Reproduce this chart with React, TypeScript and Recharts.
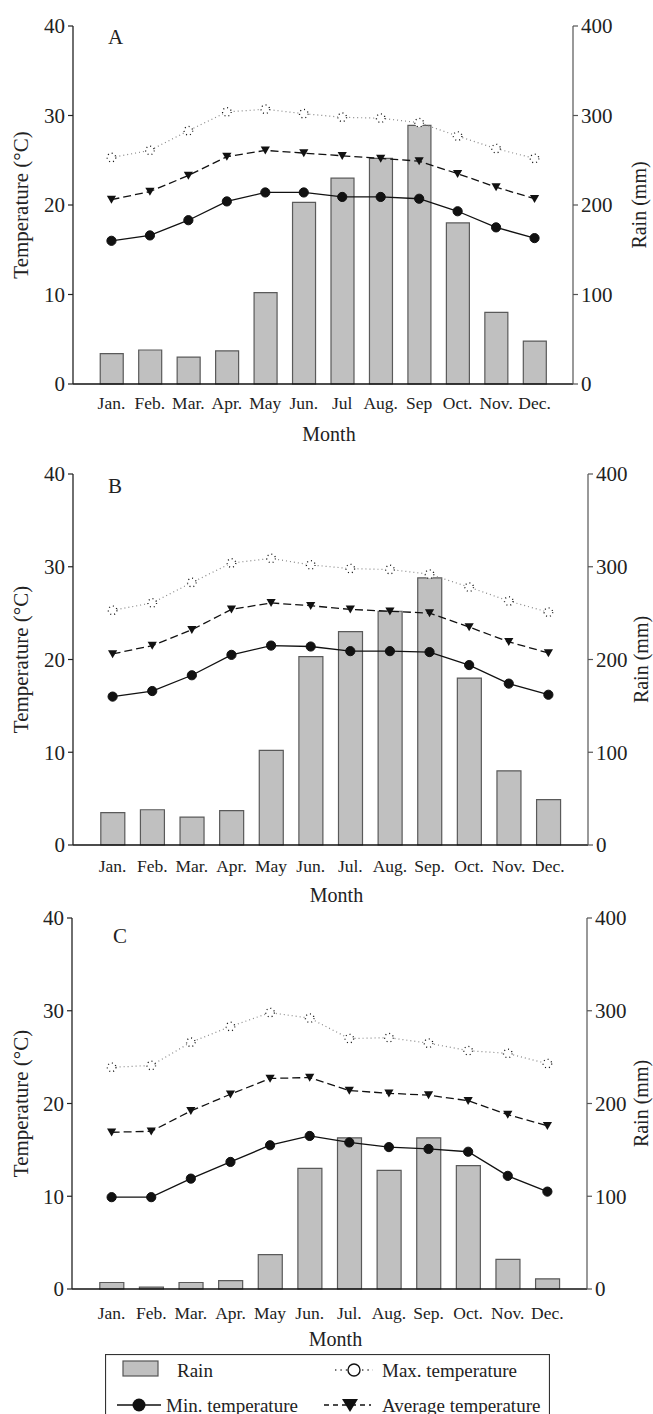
import React from 'react';
import { ComposedChart, Bar, Line, XAxis, YAxis, Label } from 'recharts';

const monthsA = ['Jan.', 'Feb.', 'Mar.', 'Apr.', 'May', 'Jun.', 'Jul', 'Aug.', 'Sep', 'Oct.', 'Nov.', 'Dec.'];
const monthsBC = ['Jan.', 'Feb.', 'Mar.', 'Apr.', 'May', 'Jun.', 'Jul.', 'Aug.', 'Sep.', 'Oct.', 'Nov.', 'Dec.'];

const tempTicks = [0, 10, 20, 30, 40];
const rainTicks = [0, 100, 200, 300, 400];

const rainA = [34, 38, 30, 37, 102, 203, 230, 252, 289, 180, 80, 48];
const maxA = [25.3, 26.1, 28.3, 30.4, 30.7, 30.2, 29.8, 29.7, 29.2, 27.7, 26.3, 25.2];
const avgA = [20.6, 21.5, 23.3, 25.4, 26.1, 25.8, 25.5, 25.2, 24.9, 23.5, 22.0, 20.7];
const minA = [16.0, 16.6, 18.3, 20.4, 21.4, 21.4, 20.9, 20.9, 20.7, 19.3, 17.5, 16.3];

const rainB = [35, 38, 30, 37, 102, 203, 230, 252, 288, 180, 80, 49];
const maxB = [25.3, 26.1, 28.3, 30.4, 30.9, 30.2, 29.8, 29.7, 29.2, 27.8, 26.3, 25.1];
const avgB = [20.6, 21.5, 23.2, 25.4, 26.1, 25.8, 25.4, 25.2, 25.0, 23.5, 21.9, 20.7];
const minB = [16.0, 16.6, 18.3, 20.5, 21.5, 21.4, 20.9, 20.9, 20.8, 19.4, 17.4, 16.2];

const rainC = [7, 2, 7, 9, 37, 130, 163, 128, 163, 133, 32, 11];
const maxC = [23.9, 24.1, 26.6, 28.3, 29.8, 29.2, 27.0, 27.1, 26.5, 25.7, 25.4, 24.3];
const avgC = [16.9, 17.0, 19.2, 21.0, 22.7, 22.8, 21.4, 21.1, 20.9, 20.3, 18.8, 17.6];
const minC = [9.9, 9.9, 11.9, 13.7, 15.5, 16.5, 15.8, 15.3, 15.1, 14.8, 12.2, 10.5];

const font = '"Liberation Serif", "Times New Roman", serif';

function TriangleDot(props: any) {
  const { cx, cy, index } = props;
  if (cx == null || cy == null) return null;
  return (
    <path
      key={'tri-' + index}
      d={`M${cx - 4.6},${cy - 3.8}L${cx + 4.6},${cy - 3.8}L${cx},${cy + 4.2}Z`}
      fill="#111"
    />
  );
}

interface PanelProps {
  months: string[];
  rain: number[];
  maxT: number[];
  avgT: number[];
  minT: number[];
  top: number;
  height: number;
  marginTop: number;
  xAxisHeight: number;
  leftWidth: number;
  rightWidth: number;
  barSize: number;
  tickMargin: number;
  rightTitleOffset: number;
}

function Panel({
  months, rain, maxT, avgT, minT, top, height, marginTop, xAxisHeight,
  leftWidth, rightWidth, barSize, tickMargin, rightTitleOffset,
}: PanelProps) {
  const data = months.map((m, i) => ({ month: m, rain: rain[i], max: maxT[i], avg: avgT[i], min: minT[i] }));
  const plotW = 653 - leftWidth - rightWidth;
  const pad = plotW / 26;
  const tickStyle = { fontSize: 21, fill: '#222', fontFamily: font };

  return (
    <div style={{ position: 'absolute', left: 0, top, width: 653, height, fontFamily: font }}>
      <ComposedChart width={653} height={height} data={data} margin={{ top: marginTop, right: 0, left: 0, bottom: 0 }}>
        <XAxis
          dataKey="month"
          height={xAxisHeight}
          padding={{ left: pad, right: pad }}
          interval={0}
          tickLine={false}
          tickSize={0}
          tickMargin={tickMargin}
          axisLine={{ stroke: '#111', strokeWidth: 1.4 }}
          tick={{ fontSize: 17.5, fill: '#222', fontFamily: font }}
        >
          <Label
            content={(p: any) => {
              const vb = p.viewBox || {};
              return (
                <text x={vb.x + vb.width / 2 + 6} y={vb.y + 57} textAnchor="middle" fontSize={20} fill="#222" fontFamily={font}>
                  Month
                </text>
              );
            }}
          />
        </XAxis>
        <YAxis
          yAxisId="temp"
          orientation="left"
          width={leftWidth}
          domain={[0, 40]}
          ticks={tempTicks}
          tickSize={5}
          tickMargin={3}
          axisLine={{ stroke: '#222', strokeWidth: 1.3 }}
          tickLine={{ stroke: '#222', strokeWidth: 1.2 }}
          tick={tickStyle}
        >
          <Label
            content={(p: any) => {
              const vb = p.viewBox || {};
              const cx = vb.x + 21;
              const cy = vb.y + vb.height / 2;
              return (
                <text x={cx} y={cy} transform={`rotate(-90 ${cx} ${cy})`} textAnchor="middle" dominantBaseline="central" fontSize={21} fill="#222" fontFamily={font}>
                  Temperature (°C)
                </text>
              );
            }}
          />
        </YAxis>
        <YAxis
          yAxisId="rain"
          orientation="right"
          width={rightWidth}
          domain={[0, 400]}
          ticks={rainTicks}
          tickSize={5}
          tickMargin={3}
          axisLine={{ stroke: '#555', strokeWidth: 1.2 }}
          tickLine={{ stroke: '#555', strokeWidth: 1.2 }}
          tick={tickStyle}
        >
          <Label
            content={(p: any) => {
              const vb = p.viewBox || {};
              const cx = vb.x + rightTitleOffset;
              const cy = vb.y + vb.height / 2;
              return (
                <text x={cx} y={cy} transform={`rotate(-90 ${cx} ${cy})`} textAnchor="middle" dominantBaseline="central" fontSize={20} fill="#222" fontFamily={font}>
                  Rain (mm)
                </text>
              );
            }}
          />
        </YAxis>
        <Bar yAxisId="rain" dataKey="rain" barSize={barSize} fill="#c0c0c0" stroke="#5a5a5a" strokeWidth={1.2} isAnimationActive={false} />
        <Line
          yAxisId="temp"
          dataKey="max"
          stroke="#888"
          strokeWidth={1.2}
          strokeDasharray="1 3"
          dot={{ r: 4.3, fill: '#fff', stroke: '#111', strokeWidth: 1.3 }}
          isAnimationActive={false}
        />
        <Line
          yAxisId="temp"
          dataKey="avg"
          stroke="#111"
          strokeWidth={1.3}
          strokeDasharray="8 4"
          dot={TriangleDot}
          isAnimationActive={false}
        />
        <Line
          yAxisId="temp"
          dataKey="min"
          stroke="#111"
          strokeWidth={1.3}
          dot={{ r: 4.6, fill: '#111', stroke: '#111', strokeWidth: 1 }}
          isAnimationActive={false}
        />
      </ComposedChart>
    </div>
  );
}

function Legend() {
  return (
    <svg width={445} height={70} style={{ position: 'absolute', left: 105, top: 1354 }}>
      <rect x={0.5} y={0.5} width={444} height={69} fill="#fff" stroke="#333" strokeWidth={1.2} />
      <rect x={18} y={7} width={35} height={15} fill="#c0c0c0" stroke="#555" strokeWidth={1.2} />
      <text x={72} y={23} fontSize={19} fill="#222" fontFamily={font}>Rain</text>
      <line x1={230} y1={16} x2={268} y2={16} stroke="#444" strokeWidth={1.4} strokeDasharray="1.4 4" />
      <circle cx={249} cy={16} r={6} fill="#fff" stroke="#111" strokeWidth={1.4} />
      <text x={277} y={23} fontSize={19} fill="#222" fontFamily={font}>Max. temperature</text>
      <line x1={12} y1={51} x2={56} y2={51} stroke="#111" strokeWidth={1.6} />
      <circle cx={34} cy={51} r={6.5} fill="#111" />
      <text x={61} y={58} fontSize={19} fill="#222" fontFamily={font}>Min. temperature</text>
      <line x1={219} y1={51} x2={266} y2={51} stroke="#111" strokeWidth={1.4} strokeDasharray="5 4" />
      <path d="M237,45 L253,45 L245,58 Z" fill="#111" />
      <text x={277} y={58} fontSize={19} fill="#222" fontFamily={font}>Average temperature</text>
    </svg>
  );
}

export default function App() {
  return (
    <div style={{ position: 'absolute', left: 0, top: 0, width: 653, height: 1414, background: '#fff', fontFamily: font }}>
      <Panel months={monthsA} rain={rainA} maxT={maxA} avgT={avgA} minT={minA}
        top={0} height={450} marginTop={26} xAxisHeight={66} leftWidth={73} rightWidth={80}
        barSize={23} tickMargin={13} rightTitleOffset={66} />
      <Panel months={monthsBC} rain={rainB} maxT={maxB} avgT={avgB} minT={minB}
        top={450} height={455} marginTop={24} xAxisHeight={60} leftWidth={73} rightWidth={65}
        barSize={24} tickMargin={15} rightTitleOffset={53} />
      <Panel months={monthsBC} rain={rainC} maxT={maxC} avgT={avgC} minT={minC}
        top={900} height={450} marginTop={18} xAxisHeight={61} leftWidth={72} rightWidth={66}
        barSize={24} tickMargin={18} rightTitleOffset={54} />
      <svg width={653} height={1414} style={{ position: 'absolute', left: 0, top: 0, pointerEvents: 'none' }}>
        <text x={108} y={44} fontSize={21} fill="#222" fontFamily={font}>A</text>
        <text x={108} y={493} fontSize={21} fill="#222" fontFamily={font}>B</text>
        <text x={113} y={943} fontSize={21} fill="#222" fontFamily={font}>C</text>
      </svg>
      <Legend />
    </div>
  );
}
